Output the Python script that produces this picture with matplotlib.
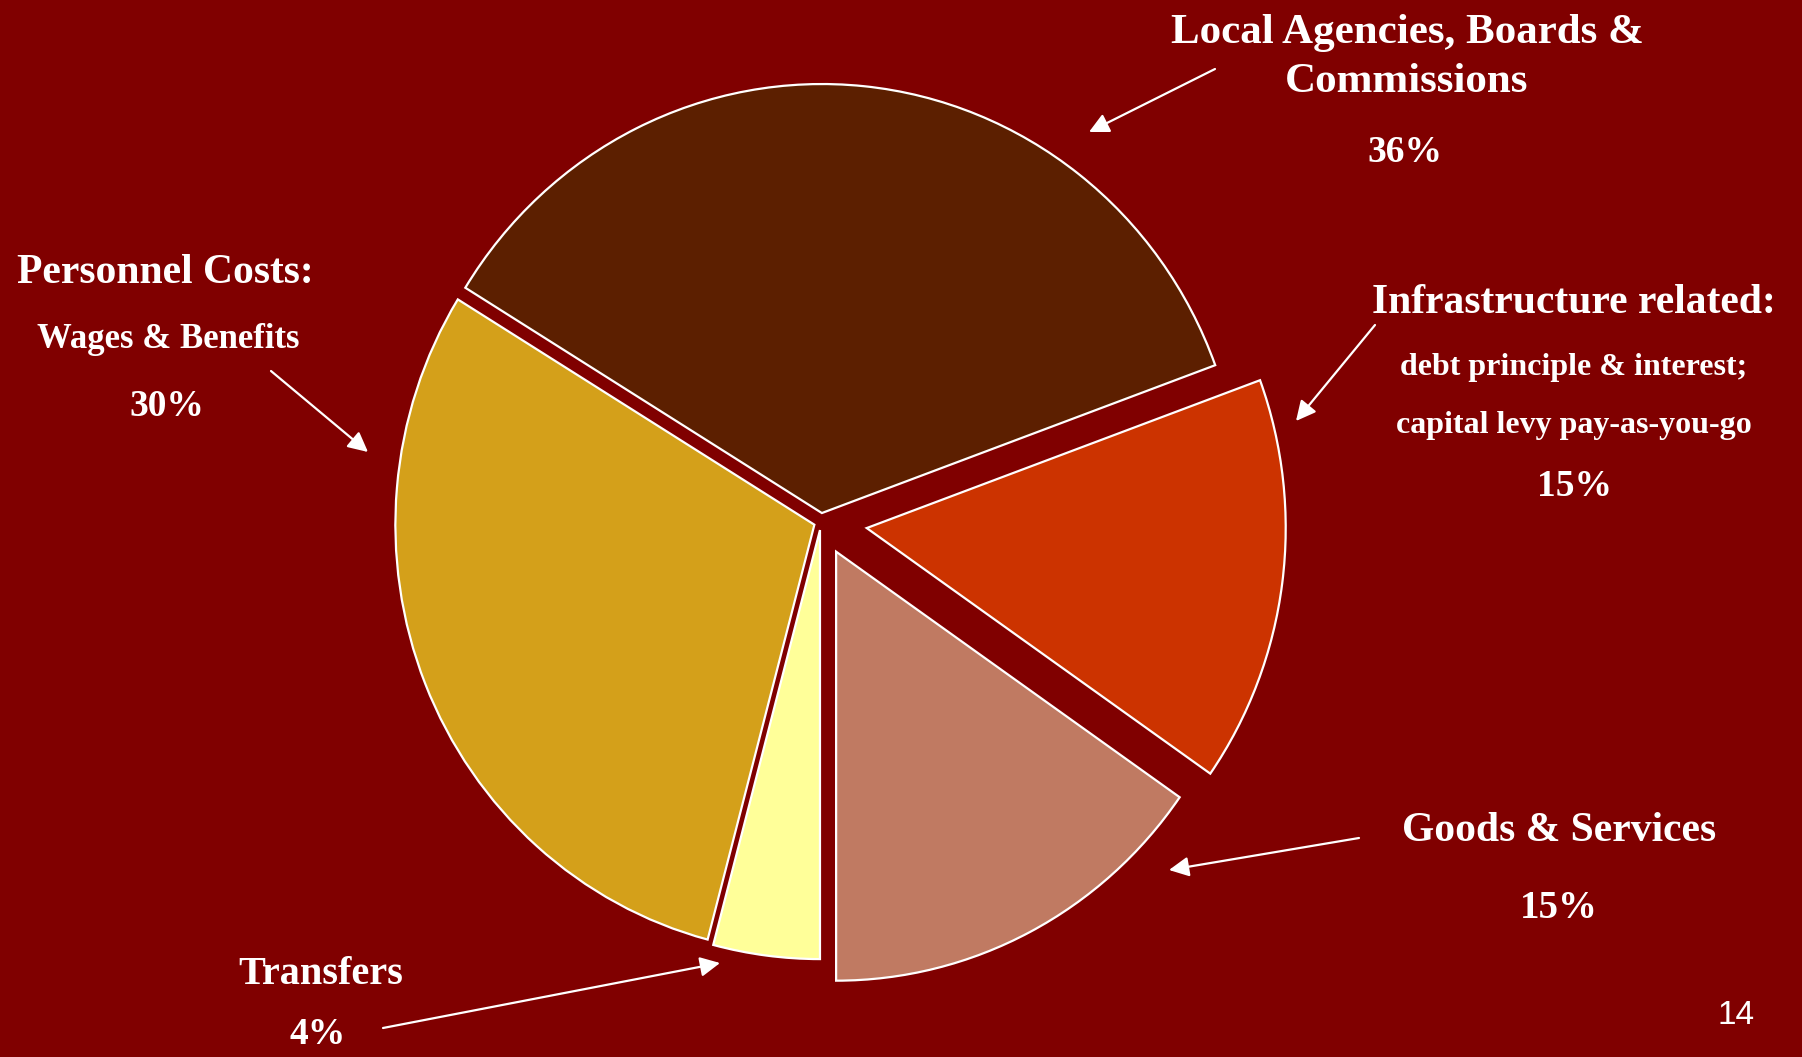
import numpy as np
import matplotlib.pyplot as plt

# slices, counterclockwise from 6 o'clock
labels = ["Goods & Services", "Infrastructure related", "Local Agencies, Boards & Commissions",
          "Personnel Costs", "Transfers"]
values = [15.3, 15.3, 35.6, 29.7, 4.1]
colors = ["#C07A62", "#CC3300", "#5C1F00", "#D4A01A", "#FFFF99"]
explode = [0.078, 0.11, 0.021, 0.017, 0.019]

bg = "#800000"
serif = "Liberation Serif"

fig = plt.figure(figsize=(18.02, 10.57), dpi=100, facecolor=bg)

# pie axes (slightly taller than wide, like the slide)
rx, ry = 419, 429
cx, cy = 821, 1057 - 522
lim = 1.2
pax = fig.add_axes([(cx - lim * rx) / 1802, (cy - lim * ry) / 1057,
                    2 * lim * rx / 1802, 2 * lim * ry / 1057])
pax.pie(values, colors=colors, explode=explode, startangle=-90, counterclock=True,
        wedgeprops=dict(edgecolor="white", linewidth=1.6))
pax.set_aspect("auto")
pax.set_xlim(-lim, lim)
pax.set_ylim(-lim, lim)
pax.axis("off")

# overlay in pixel coordinates for labels and arrows
ax = fig.add_axes([0, 0, 1, 1])
ax.set_xlim(0, 1802)
ax.set_ylim(1057, 0)
ax.axis("off")
ax.patch.set_alpha(0)

def txt(x, y, s, size):
    ax.text(x, y, s, color="white", fontsize=size, fontweight="bold", family=serif,
            ha="center", va="center")

def arrow(x0, y0, x1, y1):
    ax.annotate("", xy=(x1, y1), xytext=(x0, y0),
                arrowprops=dict(arrowstyle="-|>", color="white", lw=1.6, mutation_scale=30,
                                shrinkA=0, shrinkB=0))

# Local Agencies
txt(1407, 33, "Local Agencies, Boards &", 31)
txt(1407, 82, "Commissions", 31)
txt(1405, 153, "36%", 27)
arrow(1215, 69, 1089, 132)

# Personnel
txt(165, 273, "Personnel Costs:", 30)
txt(168, 340, "Wages & Benefits", 25)
txt(167, 406, "30%", 27)
arrow(271, 371, 368, 452)

# Infrastructure
txt(1574, 303, "Infrastructure related:", 30)
txt(1574, 367, "debt principle & interest;", 23)
txt(1574, 426, "capital levy pay-as-you-go", 23)
txt(1574, 487, "15%", 27)
arrow(1375, 325, 1296, 421)

# Goods & Services
txt(1559, 831, "Goods & Services", 30)
txt(1559, 908, "15%", 28)
arrow(1359, 838, 1169, 870)

# Transfers
txt(321, 975, "Transfers", 29)
txt(318, 1035, "4%", 27)
arrow(383, 1028, 720, 963)

ax.text(1736, 1015, "14", color="white", fontsize=24, family="Liberation Sans",
        ha="center", va="center")

fig.savefig("out.png", dpi=100, facecolor=fig.get_facecolor())
